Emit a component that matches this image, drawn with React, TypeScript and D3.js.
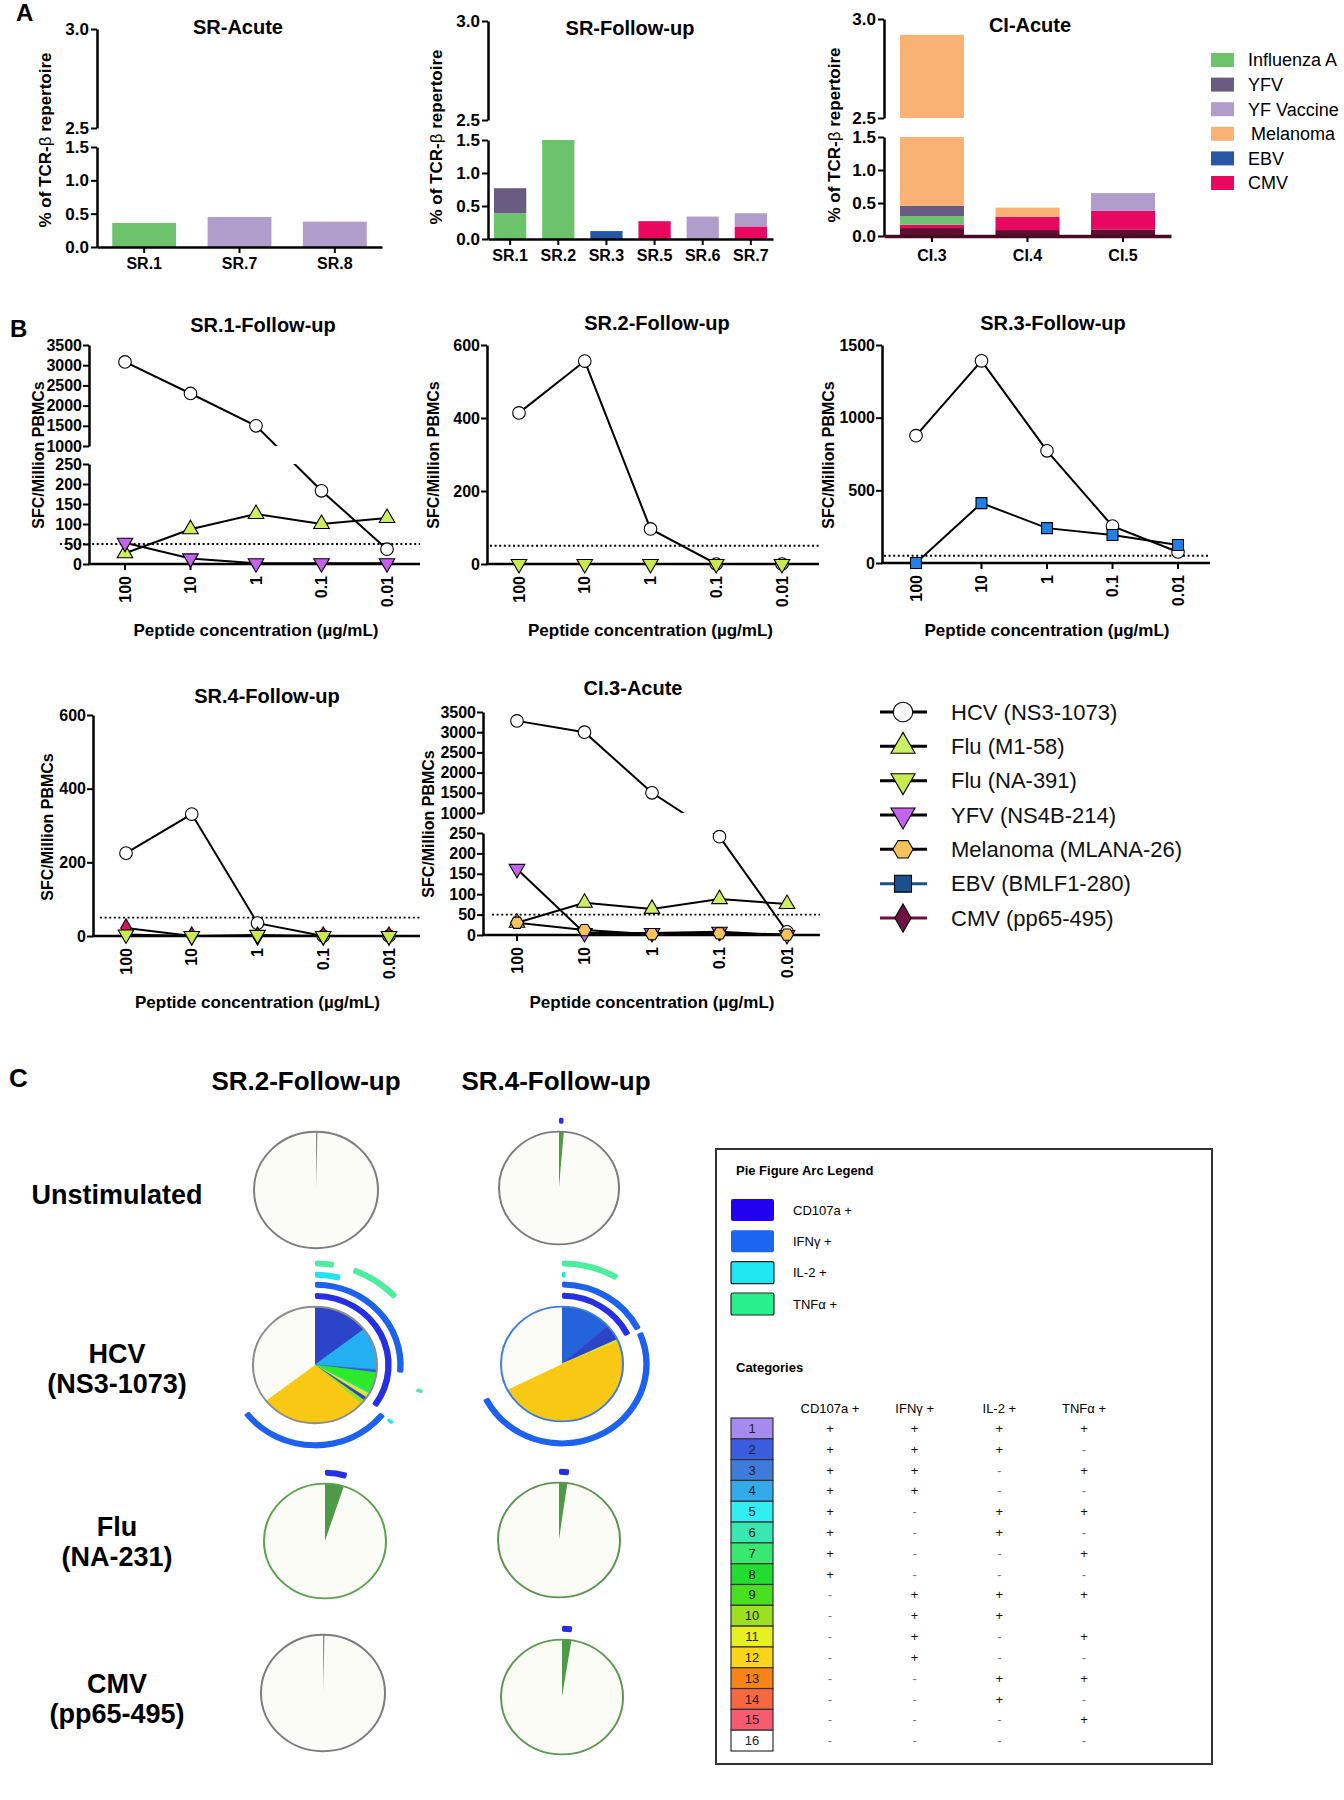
import { useEffect, useRef } from "react";
import * as d3 from "d3";

const FONT = "'Liberation Sans', Arial, Helvetica, sans-serif";
const WIDTH = 1344;
const HEIGHT = 1800;

// ---------- A: % of TCR-β repertoire ----------
const A_KEYS = ["Influenza A", "YFV", "YF Vaccine", "Melanoma", "EBV", "CMV"];
const A_COLORS = ["#6cc36b", "#6a5b80", "#b19dcc", "#f9b274", "#2756a6", "#e9085f"];
const A_BASE_COLOR = "#5e0f2f"; // dark strip at the foot of the CI bars
const A_LOW_TICKS = [0, 0.5, 1, 1.5];
const A_HIGH_TICKS = [2.5, 3];

const SR_ACUTE_IDS = ["SR.1", "SR.7", "SR.8"];
const SR_ACUTE_PARTS = [
  [["Influenza A", 0.36]],
  [["YF Vaccine", 0.45]],
  [["YF Vaccine", 0.38]],
];

const SR_FOLLOW_IDS = ["SR.1", "SR.2", "SR.3", "SR.5", "SR.6", "SR.7"];
const SR_FOLLOW_PARTS = [
  [["Influenza A", 0.39], ["YFV", 0.38]],
  [["Influenza A", 1.5]],
  [["EBV", 0.12]],
  [["CMV", 0.27]],
  [["YF Vaccine", 0.34]],
  [["CMV", 0.19], ["YF Vaccine", 0.2]],
];

const CI_ACUTE_IDS = ["CI.3", "CI.4", "CI.5"];
const CI_ACUTE_PARTS = [
  [["base", 0.12], ["CMV", 0.05], ["Influenza A", 0.13], ["YFV", 0.16], ["Melanoma", 2.46]],
  [["base", 0.09], ["CMV", 0.2], ["Melanoma", 0.14]],
  [["base", 0.1], ["CMV", 0.28], ["YF Vaccine", 0.27]],
];

// ---------- B: ELISpot titrations ----------
const CONCS = ["100", "10", "1", "0.1", "0.01"];
const THRESHOLD = 50;
const BROKEN_LOW_TICKS = [0, 50, 100, 150, 200, 250];
const BROKEN_HIGH_TICKS = [1000, 1500, 2000, 2500, 3000, 3500];

const SR1_HCV = [3080, 2300, 1500, 183, 37];
const SR1_FLU_M1 = [27, 87, 125, 100, 115];
const SR1_YFV = [53, 14, 2, 2, 2];
const SR2_HCV = [414, 556, 96, 0, 0];
const SR2_FLU_NA = [0, 0, 0, 0, 0];
const SR3_HCV = [876, 1391, 772, 254, 76];
const SR3_EBV = [0, 412, 240, 193, 124];
const SR4_HCV = [225, 331, 35, 0, 0];
const SR4_CMV = [22, 0, 0, 0, 0];
const SR4_FLU_NA = [4, 0, 3, 0, 0];
const CI3_HCV = [3280, 3000, 1500, 241, 8];
const CI3_FLU_M1 = [30, 79, 64, 88, 76];
const CI3_YFV = [162, 5, 5, 8, 0];
const CI3_MEL = [30, 12, 2, 4, 1];

const SERIES_KEYS = ["hcv", "fluM1", "fluNA", "yfv", "mel", "ebv", "cmv"];
const SERIES_LABELS = [
  "HCV (NS3-1073)",
  "Flu (M1-58)",
  "Flu (NA-391)",
  "YFV (NS4B-214)",
  "Melanoma (MLANA-26)",
  "EBV (BMLF1-280)",
  "CMV (pp65-495)",
];

// ---------- C: SPICE pies ----------
const FUNCTIONS = ["CD107a +", "IFNγ +", "IL-2 +", "TNFα +"];
const RING_KEYS = ["CD107a", "IFNg", "IL2", "TNFa"];
const RING_COLORS = ["#2630e2", "#1d62ec", "#22e2f0", "#2eea8e"];
const SWATCH_COLORS = ["#2200f0", "#1a66f0", "#20e8f2", "#28f08a"];
const CATEGORY_SIGNS = [
  "++++", "+++-", "++-+", "++--", "+-++", "+-+-", "+--+", "+---",
  "-+++", "-++ ", "-+-+", "-+--", "--++", "--+-", "---+", "----",
];
const TABLE_COLORS = [
  "#a58af0", "#3c5ce0", "#3f7bd8", "#33aaea", "#30eef2", "#38e8b0", "#38e870", "#22dd30",
  "#48e020", "#9ce020", "#e6f020", "#fad418", "#f88418", "#f86840", "#f85a70", "#ffffff",
];
const PIE_COLORS = {
  0: "#8a8a8a", 2: "#2b44c9", 3: "#2563da", 4: "#22b0f2", 6: "#2ad8a0", 7: "#2ee82a",
  8: "#4f9a48", 10: "#9ce020", 11: "#d8ee20", 12: "#f9c814", 16: "#fcfcf6",
};

const PIE_SR2_UNSTIM = [[0, 0.004], [16, 0.996]];
const ARC_SR2_UNSTIM = [];
const PIE_SR4_UNSTIM = [[8, 0.013], [16, 0.987]];
const ARC_SR4_UNSTIM = [["CD107a", 0, 0.01]];
const PIE_SR2_HCV = [
  [2, 0.145], [4, 0.118], [3, 0.008], [7, 0.055], [6, 0.006], [11, 0.012],
  [2, 0.01], [10, 0.013], [12, 0.278], [16, 0.355],
];
const ARC_SR2_HCV = [
  ["CD107a", 0, 0.35], ["IFNg", 0, 0.265], ["IFNg", 0.355, 0.648],
  ["IL2", 0, 0.042], ["IL2", 0.354, 0.36],
  ["TNFa", 0, 0.028], ["TNFa", 0.058, 0.133], ["TNFa", 0.288, 0.294],
];
const PIE_SR4_HCV = [[3, 0.135], [2, 0.045], [11, 0.006], [12, 0.49], [16, 0.324]];
const ARC_SR4_HCV = [
  ["CD107a", 0, 0.18], ["IFNg", 0, 0.178], ["IFNg", 0.186, 0.678],
  ["IL2", 0, 0.006], ["TNFa", 0, 0.086],
];
const PIE_SR2_FLU = [[8, 0.05], [16, 0.95]];
const ARC_SR2_FLU = [["CD107a", 0, 0.048]];
const PIE_SR4_FLU = [[8, 0.022], [16, 0.978]];
const ARC_SR4_FLU = [["CD107a", 0, 0.022]];
const PIE_SR2_CMV = [[0, 0.004], [16, 0.996]];
const ARC_SR2_CMV = [];
const PIE_SR4_CMV = [[8, 0.025], [16, 0.975]];
const ARC_SR4_CMV = [["CD107a", 0, 0.022]];

const PIE_ROW_LABELS = [["Unstimulated"], ["HCV", "(NS3-1073)"], ["Flu", "(NA-231)"], ["CMV", "(pp65-495)"]];

// custom hexagon for the melanoma marker
const hexagon = {
  draw(ctx, size) {
    const r = Math.sqrt((2 * size) / (3 * Math.sqrt(3)));
    for (let i = 0; i < 6; i++) {
      const a = (Math.PI / 3) * i;
      if (i === 0) ctx.moveTo(r * Math.cos(a), r * Math.sin(a));
      else ctx.lineTo(r * Math.cos(a), r * Math.sin(a));
    }
    ctx.closePath();
  },
};

const MARKERS = {
  hcv: { type: d3.symbolCircle, fill: "#ffffff", flip: false, size: 125 },
  fluM1: { type: d3.symbolTriangle, fill: "#cdee62", flip: false, size: 105 },
  fluNA: { type: d3.symbolTriangle, fill: "#c8ea50", flip: true, size: 105 },
  yfv: { type: d3.symbolTriangle, fill: "#c462ec", flip: true, size: 105 },
  mel: { type: hexagon, fill: "#f6c25e", flip: false, size: 110 },
  ebv: { type: d3.symbolSquare, fill: "#2080e8", flip: false, size: 120 },
  cmv: { type: d3.symbolDiamond, fill: "#d8145c", flip: false, size: 95 },
};

function styleAxis(sel, size) {
  sel.attr("font-family", FONT).attr("font-size", size).attr("font-weight", "bold");
  sel.select(".domain").attr("stroke", "#000").attr("stroke-width", 2.5);
  sel.selectAll(".tick line").attr("stroke", "#000").attr("stroke-width", 2);
  sel.selectAll(".tick text").attr("fill", "#000");
}

function label(g, x, y, txt, size, weight = "bold", anchor = "middle") {
  return g
    .append("text")
    .attr("x", x)
    .attr("y", y)
    .attr("font-family", FONT)
    .attr("font-size", size)
    .attr("font-weight", weight)
    .attr("text-anchor", anchor)
    .attr("fill", "#000")
    .text(txt);
}

// ---------- Panel A ----------
const A_CHARTS = [
  { title: "SR-Acute", ids: SR_ACUTE_IDS, parts: SR_ACUTE_PARTS, x0: 97, x1: 382, low: [247, 147], high: [128, 29], po: 0.16, tx: 238, ty: 34, lx: 45, ly: 140 },
  { title: "SR-Follow-up", ids: SR_FOLLOW_IDS, parts: SR_FOLLOW_PARTS, x0: 488, x1: 773, low: [239, 140], high: [120, 21], po: 0.125, tx: 630, ty: 35, lx: 436, ly: 137 },
  { title: "CI-Acute", ids: CI_ACUTE_IDS, parts: CI_ACUTE_PARTS, x0: 884, x1: 1171, low: [236, 137], high: [118, 19], po: 0.167, tx: 1030, ty: 32, lx: 834, ly: 135, darkAxis: true },
];

function barChart(svg, c) {
  const g = svg.append("g");
  const yLow = d3.scaleLinear().domain([0, 1.5]).range(c.low);
  const yHigh = d3.scaleLinear().domain([2.5, 3]).range(c.high);
  const x = d3.scaleBand().domain(c.ids).range([c.x0, c.x1]).paddingInner(0.33).paddingOuter(c.po);

  c.parts.forEach((parts, i) => {
    let acc = 0;
    parts.forEach(([key, v]) => {
      const lo = acc;
      const hi = acc + v;
      acc = hi;
      const fill = key === "base" ? A_BASE_COLOR : A_COLORS[A_KEYS.indexOf(key)];
      if (lo < 1.5) {
        const top = Math.min(hi, 1.5);
        g.append("rect")
          .attr("x", x(c.ids[i]))
          .attr("width", x.bandwidth())
          .attr("y", yLow(top))
          .attr("height", yLow(lo) - yLow(top))
          .attr("fill", fill);
      }
      if (hi > 2.5) {
        const bot = Math.max(lo, 2.5);
        const top = Math.min(hi, 3);
        g.append("rect")
          .attr("x", x(c.ids[i]))
          .attr("width", x.bandwidth())
          .attr("y", yHigh(top))
          .attr("height", yHigh(bot) - yHigh(top))
          .attr("fill", fill);
      }
    });
  });

  const fmt = d3.format(".1f");
  g.append("g")
    .attr("transform", `translate(${c.x0},0)`)
    .call(d3.axisLeft(yLow).tickValues(A_LOW_TICKS).tickFormat(fmt).tickSize(6).tickSizeOuter(0).tickPadding(2))
    .call(styleAxis, 17);
  g.append("g")
    .attr("transform", `translate(${c.x0},0)`)
    .call(d3.axisLeft(yHigh).tickValues(A_HIGH_TICKS).tickFormat(fmt).tickSize(6).tickSizeOuter(0).tickPadding(2))
    .call(styleAxis, 17);
  const xa = g
    .append("g")
    .attr("transform", `translate(0,${c.low[0]})`)
    .call(d3.axisBottom(x).tickSize(6).tickSizeOuter(0).tickPadding(c.darkAxis ? 8 : 5))
    .call(styleAxis, 16);
  if (c.darkAxis) {
    xa.select(".domain").attr("stroke", "#4a0b26").attr("stroke-width", 3.5);
  }

  label(g, c.tx, c.ty, c.title, 20);
  const yl = g
    .append("text")
    .attr("transform", `translate(${c.lx},${c.ly}) rotate(-90)`)
    .attr("text-anchor", "middle")
    .attr("dy", "0.35em")
    .attr("font-family", FONT)
    .attr("font-size", 17)
    .attr("font-weight", "bold");
  yl.append("tspan").text("% of TCR-");
  yl.append("tspan").attr("font-weight", "normal").text("β");
  yl.append("tspan").text(" repertoire");
}

function drawPanelA(svg) {
  label(svg, 16, 21, "A", 24, "bold", "start");
  A_CHARTS.forEach((c) => barChart(svg, c));
  const ly = d3.scalePoint().domain(A_KEYS).range([60, 183]);
  A_KEYS.forEach((k, i) => {
    svg.append("rect").attr("x", 1211).attr("y", ly(k) - 7).attr("width", 23).attr("height", 14).attr("fill", A_COLORS[i]);
    label(svg, k === "Melanoma" ? 1251 : 1248, ly(k), k, 18, "normal", "start").attr("dy", "0.35em");
  });
}

// ---------- Panel B ----------
const B_CHARTS = [
  {
    title: "SR.1-Follow-up", tx: 263, ty: 332, axisX: 89, xr: [125, 387], xEnd: 420, dotStart: 60,
    broken: { low: [564, 464], high: [446, 345] },
    series: [["hcv", SR1_HCV], ["fluM1", SR1_FLU_M1], ["yfv", SR1_YFV]],
    lx: 38, ly: 455, xly: 636,
  },
  {
    title: "SR.2-Follow-up", tx: 657, ty: 330, axisX: 487, xr: [519, 782], xEnd: 819, dotStart: 490,
    linear: { max: 600, r: [564, 345], ticks: [0, 200, 400, 600] },
    series: [["hcv", SR2_HCV], ["fluNA", SR2_FLU_NA]],
    lx: 433, ly: 455, xly: 636,
  },
  {
    title: "SR.3-Follow-up", tx: 1053, ty: 330, axisX: 882, xr: [916, 1178], xEnd: 1210, dotStart: 884,
    linear: { max: 1500, r: [563, 345], ticks: [0, 500, 1000, 1500] },
    series: [["hcv", SR3_HCV], ["ebv", SR3_EBV]],
    lx: 828, ly: 455, xly: 636,
  },
  {
    title: "SR.4-Follow-up", tx: 267, ty: 703, axisX: 93, xr: [126, 389], xEnd: 420, dotStart: 100,
    linear: { max: 600, r: [936, 715], ticks: [0, 200, 400, 600] },
    series: [["hcv", SR4_HCV], ["cmv", SR4_CMV], ["fluNA", SR4_FLU_NA]],
    lx: 47, ly: 827, xly: 1008,
  },
  {
    title: "CI.3-Acute", tx: 633, ty: 695, axisX: 483, xr: [517, 787], xEnd: 820, dotStart: 492,
    broken: { low: [935, 833], high: [813, 712] },
    series: [["hcv", CI3_HCV], ["fluM1", CI3_FLU_M1], ["yfv", CI3_YFV], ["mel", CI3_MEL]],
    lx: 428, ly: 824, xly: 1008,
  },
];

function marker(g, key, x, y, scale = 1, fill = null) {
  const m = MARKERS[key];
  g.append("path")
    .attr("d", d3.symbol().type(m.type).size(m.size * scale * scale)())
    .attr("transform", `translate(${x},${y})${m.flip ? " rotate(180)" : ""}`)
    .attr("fill", fill || m.fill)
    .attr("stroke", "#000")
    .attr("stroke-width", 1.1);
}

function lineChart(svg, defs, c, idx) {
  const g = svg.append("g");
  const x = d3.scalePoint().domain(CONCS).range(c.xr);
  const intFmt = d3.format("d");
  let y;
  let y0;
  if (c.broken) {
    const yLow = d3.scaleLinear().domain([0, 250]).range(c.broken.low);
    const yHigh = d3.scaleLinear().domain([1000, 3500]).range(c.broken.high);
    y = (v) => (v >= 1000 ? yHigh(v) : yLow(v));
    y0 = c.broken.low[0];
    g.append("g")
      .attr("transform", `translate(${c.axisX},0)`)
      .call(d3.axisLeft(yLow).tickValues(BROKEN_LOW_TICKS).tickFormat(intFmt).tickSize(6).tickSizeOuter(0).tickPadding(1))
      .call(styleAxis, 16);
    g.append("g")
      .attr("transform", `translate(${c.axisX},0)`)
      .call(d3.axisLeft(yHigh).tickValues(BROKEN_HIGH_TICKS).tickFormat(intFmt).tickSize(6).tickSizeOuter(0).tickPadding(1))
      .call(styleAxis, 16);
    const cp = defs.append("clipPath").attr("id", `bclip-${idx}`);
    cp.append("rect").attr("x", c.axisX - 20).attr("width", c.xEnd - c.axisX + 40)
      .attr("y", c.broken.high[1] - 40).attr("height", c.broken.high[0] - c.broken.high[1] + 40);
    cp.append("rect").attr("x", c.axisX - 20).attr("width", c.xEnd - c.axisX + 40)
      .attr("y", c.broken.low[1]).attr("height", c.broken.low[0] - c.broken.low[1] + 40);
  } else {
    const ys = d3.scaleLinear().domain([0, c.linear.max]).range(c.linear.r);
    y = ys;
    y0 = c.linear.r[0];
    g.append("g")
      .attr("transform", `translate(${c.axisX},0)`)
      .call(d3.axisLeft(ys).tickValues(c.linear.ticks).tickFormat(intFmt).tickSize(6).tickSizeOuter(0).tickPadding(1))
      .call(styleAxis, 16);
  }

  // x axis
  g.append("line").attr("x1", c.axisX - 1).attr("x2", c.xEnd).attr("y1", y0).attr("y2", y0)
    .attr("stroke", "#000").attr("stroke-width", 2.5);
  CONCS.forEach((k) => {
    g.append("line").attr("x1", x(k)).attr("x2", x(k)).attr("y1", y0).attr("y2", y0 + 6)
      .attr("stroke", "#000").attr("stroke-width", 2);
    g.append("text")
      .attr("transform", `translate(${x(k)},${y0 + 12}) rotate(-90)`)
      .attr("text-anchor", "end")
      .attr("dy", "0.35em")
      .attr("font-family", FONT)
      .attr("font-size", 16)
      .attr("font-weight", "bold")
      .text(k);
  });

  // threshold
  g.append("line").attr("x1", c.dotStart).attr("x2", c.xEnd).attr("y1", y(THRESHOLD)).attr("y2", y(THRESHOLD))
    .attr("stroke", "#000").attr("stroke-width", 1.8).attr("stroke-dasharray", "2,2.6");

  const line = d3.line().x((d, i) => x(CONCS[i])).y((d) => y(d));
  const lg = g.append("g");
  if (c.broken) lg.attr("clip-path", `url(#bclip-${idx})`);
  c.series.forEach(([, vals]) => {
    lg.append("path").attr("d", line(vals)).attr("fill", "none").attr("stroke", "#000").attr("stroke-width", 2);
  });
  c.series.forEach(([key, vals]) => {
    vals.forEach((v, i) => marker(g, key, x(CONCS[i]), y(v)));
  });

  label(g, c.tx, c.ty, c.title, 20);
  label(g, (c.xr[0] + c.xr[1]) / 2, c.xly, "Peptide concentration (µg/mL)", 17);
  g.append("text")
    .attr("transform", `translate(${c.lx},${c.ly}) rotate(-90)`)
    .attr("text-anchor", "middle")
    .attr("dy", "0.35em")
    .attr("font-family", FONT)
    .attr("font-size", 16)
    .attr("font-weight", "bold")
    .text("SFC/Million PBMCs");
}

function drawPanelB(svg, defs) {
  label(svg, 10, 337, "B", 24, "bold", "start");
  B_CHARTS.forEach((c, i) => lineChart(svg, defs, c, i));
  const ly = d3.scalePoint().domain(SERIES_KEYS).range([712, 918]);
  const lineColors = { ebv: "#1d4f8f", cmv: "#6e1040" };
  SERIES_KEYS.forEach((k, i) => {
    const col = lineColors[k] || "#000";
    svg.append("line").attr("x1", 880).attr("x2", 927).attr("y1", ly(k)).attr("y2", ly(k))
      .attr("stroke", col).attr("stroke-width", 3);
    marker(svg, k, 903, ly(k), 1.55, lineColors[k] || null);
    label(svg, 951, ly(k), SERIES_LABELS[i], 22, "normal", "start").attr("dy", "0.35em").attr("fill", "#111");
  });
}

// ---------- Panel C ----------
const PIES = [
  { cx: 316, cy: 1190, r: 62, slices: PIE_SR2_UNSTIM, arcs: ARC_SR2_UNSTIM, outline: "#7c7c7c" },
  { cx: 559, cy: 1188, r: 60, slices: PIE_SR4_UNSTIM, arcs: ARC_SR4_UNSTIM, outline: "#7c7c7c" },
  { cx: 315, cy: 1365, r: 62, slices: PIE_SR2_HCV, arcs: ARC_SR2_HCV, outline: "#8c8c8c" },
  { cx: 562, cy: 1364, r: 61, slices: PIE_SR4_HCV, arcs: ARC_SR4_HCV, outline: "#3b7de0" },
  { cx: 325, cy: 1541, r: 61, slices: PIE_SR2_FLU, arcs: ARC_SR2_FLU, outline: "#5aa24e" },
  { cx: 559, cy: 1540, r: 61, slices: PIE_SR4_FLU, arcs: ARC_SR4_FLU, outline: "#5a9450" },
  { cx: 323, cy: 1693, r: 62, slices: PIE_SR2_CMV, arcs: ARC_SR2_CMV, outline: "#7c7c7c" },
  { cx: 562, cy: 1697, r: 61, slices: PIE_SR4_CMV, arcs: ARC_SR4_CMV, outline: "#5a9a50" },
];
const RING_OFFSETS = [11.5, 23.5, 34, 46];

function drawPie(svg, p) {
  const g = svg.append("g").attr("transform", `translate(${p.cx},${p.cy}) scale(1,0.94)`);
  const angle = d3.scaleLinear().domain([0, 1]).range([0, 2 * Math.PI]);
  const pie = d3.pie().value((d) => d[1]).sort(null);
  const arc = d3.arc().innerRadius(0).outerRadius(p.r);
  g.selectAll("path.slice")
    .data(pie(p.slices))
    .join("path")
    .attr("class", "slice")
    .attr("d", arc)
    .attr("fill", (d) => PIE_COLORS[d.data[0]])
    .attr("stroke", (d) => (d.data[0] === 16 ? "none" : PIE_COLORS[d.data[0]]))
    .attr("stroke-width", 0.7);
  g.append("circle").attr("r", p.r).attr("fill", "none").attr("stroke", p.outline).attr("stroke-width", 2);
  const ringArc = d3.arc().cornerRadius(1.6);
  p.arcs.forEach(([fn, a0, a1]) => {
    const ri = RING_KEYS.indexOf(fn);
    const r = p.r + RING_OFFSETS[ri];
    g.append("path")
      .attr("d", ringArc({ innerRadius: r - 3.2, outerRadius: r + 3.2, startAngle: angle(a0), endAngle: angle(a1) }))
      .attr("fill", RING_COLORS[ri])
      .attr("opacity", fn === "TNFa" ? 0.85 : 1);
  });
}

function drawPanelC(svg) {
  label(svg, 9, 1087, "C", 26, "bold", "start");
  label(svg, 306, 1090, "SR.2-Follow-up", 26);
  label(svg, 556, 1090, "SR.4-Follow-up", 26);
  const rowY = [1204, 1363, 1536, 1693];
  PIE_ROW_LABELS.forEach((lines, i) => {
    lines.forEach((t, j) => label(svg, 117, rowY[i] + j * 30, t, 27));
  });
  PIES.forEach((p) => drawPie(svg, p));

  // arc legend + category table
  svg.append("rect").attr("x", 716).attr("y", 1149).attr("width", 496).attr("height", 615)
    .attr("fill", "#fff").attr("stroke", "#333").attr("stroke-width", 2);
  label(svg, 736, 1175, "Pie Figure Arc Legend", 13, "bold", "start");
  const sy = d3.scalePoint().domain(FUNCTIONS).range([1199, 1293]);
  FUNCTIONS.forEach((f, i) => {
    svg.append("rect").attr("x", 731).attr("y", sy(f)).attr("width", 43).attr("height", 22).attr("rx", 2)
      .attr("fill", SWATCH_COLORS[i])
      .attr("stroke", i >= 2 ? "#222" : "none").attr("stroke-width", 1.2);
    label(svg, 793, sy(f) + 11, f, 13, "normal", "start").attr("dy", "0.35em");
  });
  label(svg, 736, 1372, "Categories", 13, "bold", "start");

  const colX = d3.scalePoint().domain(FUNCTIONS).range([830, 1084]);
  FUNCTIONS.forEach((f) => label(svg, colX(f), 1408, f, 13, "normal").attr("dy", "0.35em"));
  const rows = d3.range(1, 17);
  const ry = d3.scaleBand().domain(rows).range([1418, 1751]);
  rows.forEach((r, i) => {
    svg.append("rect").attr("x", 731).attr("y", ry(r)).attr("width", 42).attr("height", ry.bandwidth())
      .attr("fill", TABLE_COLORS[i]).attr("stroke", "#333").attr("stroke-width", 1.2);
    const cy = ry(r) + ry.bandwidth() / 2;
    label(svg, 752, cy, String(r), 13, "normal").attr("dy", "0.35em").attr("fill", "#222");
    CATEGORY_SIGNS[i].split("").forEach((s, j) => {
      if (s === " ") return;
      label(svg, colX(FUNCTIONS[j]), cy, s, 13, "normal").attr("dy", "0.35em").attr("fill", s === "+" ? "#111" : "#777");
    });
  });
}

export default function App() {
  const ref = useRef(null);

  useEffect(() => {
    const el = ref.current;
    if (!el) return;
    const svg = d3.select(el);
    svg.selectAll("*").remove();
    const defs = svg.append("defs");
    svg.append("rect").attr("width", WIDTH).attr("height", HEIGHT).attr("fill", "#fff");
    drawPanelA(svg);
    drawPanelB(svg, defs);
    drawPanelC(svg);
  }, []);

  return (
    <svg
      ref={ref}
      width={WIDTH}
      height={HEIGHT}
      viewBox={`0 0 ${WIDTH} ${HEIGHT}`}
      style={{ position: "absolute", left: 0, top: 0, display: "block" }}
    />
  );
}
